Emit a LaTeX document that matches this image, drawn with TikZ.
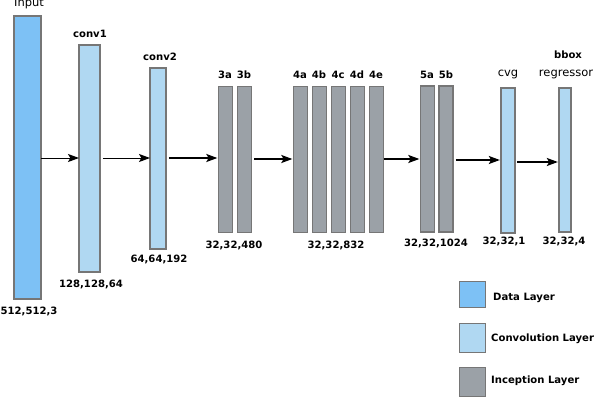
\documentclass[tikz,border=0pt]{standalone}
\usepackage{fontspec}
\setmainfont{DejaVu Sans}
\usetikzlibrary{arrows.meta}
\definecolor{datablue}{RGB}{125,193,245}
\definecolor{convblue}{RGB}{176,216,242}
\definecolor{incgray}{RGB}{155,161,167}
\definecolor{edgegray}{RGB}{118,118,118}

\begin{document}
\begin{tikzpicture}[x=0.03cm,y=-0.03cm,
  wh/.style 2 args={minimum width=#1*0.3mm,minimum height=#2*0.3mm},
  layer/.style={draw=edgegray,inner sep=0pt,outer sep=0pt},
  datal/.style={layer,fill=datablue,line width=2.4pt},
  convl/.style={layer,fill=convblue,line width=1.8pt},
  incl/.style={layer,fill=incgray,line width=1.1pt},
  lbl/.style={font=\fontsize{8.6}{10}\selectfont\bfseries,inner sep=0pt},
  lbm/.style={font=\fontsize{9.8}{11}\selectfont,inner sep=0pt},
  arr/.style={-{Stealth[length=3.3mm,width=2.4mm,inset=0.7mm]},line width=1.5pt},
  thinarr/.style={arr,line width=0.8pt},
]
\useasboundingbox (0,0) rectangle (600,398);

% layers
\node[datal,wh={27}{283}] (input) at (27.5,157.5) {};
\node[convl,wh={21}{227}] (conv1) at (89.5,158.5) {};
\node[convl,wh={16}{181}] (conv2) at (158,158.5) {};
\foreach \n/\x in {3a/225.5,3b/244.5}
  \node[incl,wh={14}{146}] (i\n) at (\x,159.5) {};
\foreach \n/\x in {4a/300.5,4b/319.5,4c/338.5,4d/357.5,4e/376.5}
  \node[incl,wh={14}{146}] (i\n) at (\x,159.5) {};
\foreach \n/\x in {5a/427.5,5b/446}
  \node[incl,wh={14}{146}] (i\n) at (\x,159) {};
\node[convl,wh={14}{145}] (cvg) at (508,160.5) {};
\node[convl,wh={12}{144}] (bbox) at (565,160) {};

% connections
\draw[thinarr] (input.east |- 0,158) coordinate (a0) -- (a0 -| conv1.west);
\draw[thinarr,shorten <=2.5pt] (conv1.east |- 0,158) coordinate (a1) -- (a1 -| conv2.west);
\draw[arr,shorten <=2.5pt,shorten >=1pt] (conv2.east |- 0,158) coordinate (a2) -- (a2 -| i3a.west);
\draw[arr,shorten <=2.5pt,shorten >=1pt] (i3b.east |- 0,159) coordinate (a3) -- (a3 -| i4a.west);
\draw[arr,shorten >=1pt] (i4e.east |- 0,159) coordinate (a4) -- (a4 -| i5a.west);
\draw[arr,shorten <=2.5pt,shorten >=1pt] (i5b.east |- 0,160) coordinate (a5) -- (a5 -| cvg.west);
\draw[arr,shorten <=2pt,shorten >=1pt] (cvg.east |- 0,162) coordinate (a6) -- (a6 -| bbox.west);

% names
\node[lbm] (tinput) at (29,4) {Input};
\node[lbl] (tconv1) at (90,34) {conv1};
\node[lbl] (tconv2) at (160,57) {conv2};
\foreach \n/\x in {3a/225,3b/244,4a/300,4b/319,4c/338,4d/357,4e/376,5a/427,5b/446}
  \node[lbl] (t\n) at (\x,75) {\n};
\node[lbm] (tcvg) at (508,74) {cvg};
\node[lbl] (tbbox) at (568,55) {bbox};
\node[lbm] (treg) at (566,74) {regressor};

% sizes
\node[lbl] (s0) at (29,311) {512,512,3};
\node[lbl] (s1) at (91,284) {128,128,64};
\node[lbl] (s2) at (159,259) {64,64,192};
\node[lbl] (s3) at (234,245) {32,32,480};
\node[lbl] (s4) at (336,245) {32,32,832};
\node[lbl] (s5) at (436,243) {32,32,1024};
\node[lbl] (s6) at (504,241) {32,32,1};
\node[lbl] (s7) at (564,241) {32,32,4};

% legend
\node[datal,line width=1pt,wh={26}{26}] (kdata) at (472.5,294.5) {};
\node[convl,line width=1pt,wh={26}{29}] (kconv) at (472.5,338) {};
\node[incl,line width=1pt,wh={26}{29}] (kinc) at (472.5,382) {};
\node[lbl,anchor=west] (ldata) at (493,298) {Data Layer};
\node[lbl,anchor=west] (lconv) at (491,339) {Convolution Layer};
\node[lbl,anchor=west] (linc) at (491,381) {Inception Layer};
\end{tikzpicture}
\end{document}
